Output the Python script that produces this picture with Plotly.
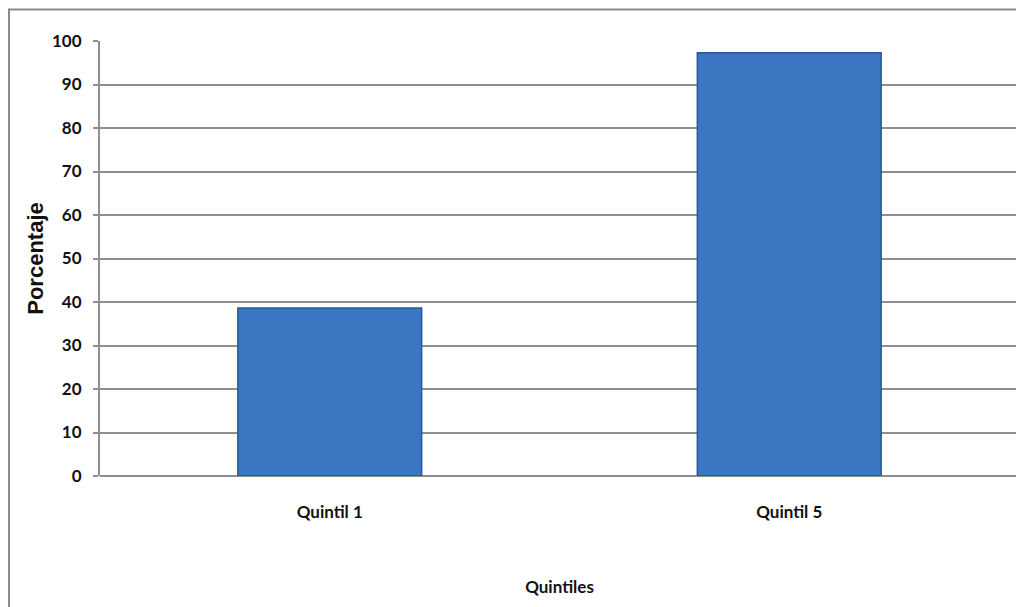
import plotly.graph_objects as go

categories = ["Quintil 1", "Quintil 5"]
values = [38.6, 97.3]
y_ticks = [0, 10, 20, 30, 40, 50, 60, 70, 80, 90, 100]

LABEL_FONT = "Lato, Roboto, sans-serif"

# The page body has an 8px margin, so the figure is offset by (8, 8) in the window.
fig = go.Figure()
fig.add_trace(go.Bar(
    x=categories,
    y=values,
    marker=dict(color="#3b76c2", line=dict(color="#2b5893", width=1.5)),
    width=0.4,
    hoverinfo="x+y",
))

grid_color = "#8f8f8f"
fig.update_layout(
    width=1024, height=607,
    margin=dict(l=92, r=13, t=32.5, b=138.5),
    paper_bgcolor="white",
    plot_bgcolor="white",
    showlegend=False,
    xaxis=dict(
        type="category",
        showgrid=False,
        showline=False,
        ticks="",
        tickfont=dict(family=LABEL_FONT, size=17, color="#111111", weight="bold"),
        title=dict(text="Quintiles", font=dict(family=LABEL_FONT, size=17, color="#111111", weight="bold"), standoff=60),
        ticklabelstandoff=24,
    ),
    yaxis=dict(
        range=[0, 100],
        tickvals=y_ticks,
        showgrid=True,
        gridcolor=grid_color,
        gridwidth=2,
        showline=True,
        linecolor=grid_color,
        linewidth=2,
        zeroline=True,
        zerolinecolor=grid_color,
        zerolinewidth=2,
        ticks="outside",
        ticklen=5,
        tickwidth=2,
        tickcolor=grid_color,
        tickfont=dict(family=LABEL_FONT, size=17, color="#111111", weight="bold"),
        ticklabelstandoff=8,
        title=dict(text="Porcentaje", font=dict(family="Liberation Sans, Arial, sans-serif", size=22, color="#111111", weight="bold"), standoff=2),
    ),
    shapes=[dict(
        type="rect", xref="paper", yref="paper",
        x0=-0.099, x1=1.03, y0=-0.4, y1=1.0722,
        line=dict(color="#8a8a8a", width=2), fillcolor="rgba(0,0,0,0)",
        layer="below",
    )],
)

fig.write_html("out.html")
